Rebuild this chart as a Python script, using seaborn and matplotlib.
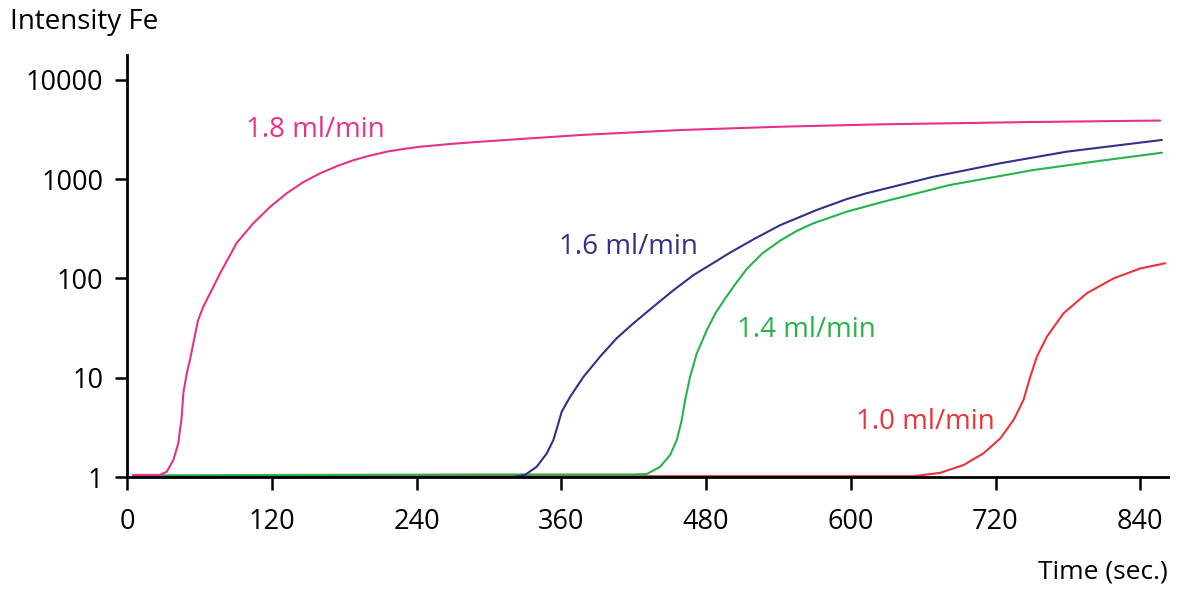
import numpy as np
import pandas as pd
import matplotlib
matplotlib.use("Agg")
import matplotlib.pyplot as plt
import seaborn as sns

# values (time in sec, Fe intensity)
t_18 = [5, 27, 33, 38.4, 42.5, 45.4, 46.7, 49.5, 52.2, 58.9, 63.3, 71.3, 77.1, 91, 104.7, 118.6,
        132.4, 146, 160, 174, 187.6, 201, 215.3, 229, 243, 270, 292.7, 375.6, 458.5, 541.5, 624,
        668.5, 751, 856.5]
y_18 = [1.05, 1.05, 1.13, 1.48, 2.18, 4.05, 6.95, 11, 15.1, 38, 52, 81, 112, 228, 359, 525,
        720, 930, 1143, 1350, 1550, 1720, 1890, 2010, 2120, 2270, 2380, 2780, 3120, 3370, 3560,
        3630, 3760, 3890]

t_16 = [5, 320, 330, 339.7, 348, 353.5, 357.6, 360.4, 367.3, 378.4, 392.2, 406, 419.8, 436.4, 453,
        469.6, 486, 500, 520, 541.5, 572, 596.8, 613, 652, 668.6, 724, 779, 858]
y_16 = [1.0, 1.0, 1.05, 1.27, 1.73, 2.36, 3.47, 4.55, 6.4, 10.2, 16.3, 25, 35.3, 52, 76,
        108, 143, 182, 250, 344, 490, 630, 720, 942, 1057, 1445, 1890, 2480]

t_14 = [10, 300, 419.8, 430.9, 442, 450.2, 455.8, 459.9, 462.7, 466.8, 472.4, 480.7, 488, 496,
        505, 513.9, 527, 541.5, 555, 569, 596.8, 627, 682, 751.5, 807, 858]
y_14 = [1.04, 1.06, 1.06, 1.07, 1.27, 1.66, 2.36, 3.75, 5.96, 10.2, 17.6, 30.2, 45, 63,
        90, 125, 180, 240, 300, 359, 470, 592, 872, 1235, 1530, 1845]

t_10 = [5, 400, 624, 652, 674, 693.5, 710, 724, 735, 743.2, 748.8, 754.3, 762.6, 776.4, 795.8,
        817.9, 840, 860.7]
y_10 = [1.02, 1.02, 1.02, 1.02, 1.1, 1.32, 1.73, 2.45, 3.75, 5.96, 10.2, 16.3, 25.9, 44.5, 71,
        100, 126, 142]

flows = ["1.8 ml/min", "1.6 ml/min", "1.4 ml/min", "1.0 ml/min"]
colors = ["#E6318A", "#33308B", "#25B34B", "#E8333B"]
label_t = [99, 358, 506, 604]
label_y = [3120, 207, 30.2, 3.6]

xticks = [0, 120, 240, 360, 480, 600, 720, 840]
yticks = [1, 10, 100, 1000, 10000]

frames = []
for name, t, y in zip(flows, [t_18, t_16, t_14, t_10], [y_18, y_16, y_14, y_10]):
    frames.append(pd.DataFrame({"time": t, "intensity": y, "flow": name}))
df = pd.concat(frames, ignore_index=True)

sns.set_theme(style="white")
plt.rcParams['font.family'] = ['Open Sans', 'DejaVu Sans']

fig = plt.figure(figsize=(11.91, 5.92), dpi=100)
ax = fig.add_axes([127 / 1191, 1 - 477 / 592, 1041 / 1191, 422 / 592])

# draw 1.0 first so the others sit on top of the baseline, like the reference
order = ["1.0 ml/min", "1.4 ml/min", "1.6 ml/min", "1.8 ml/min"]
for name in order:
    sub = df[df["flow"] == name]
    sns.lineplot(data=sub, x="time", y="intensity", color=colors[flows.index(name)],
                 linewidth=1.5, ax=ax, estimator=None, sort=False, legend=False)

ax.set_yscale("log")
ax.set_xlim(0, 863)
ax.set_ylim(1, 10 ** 4.25)
ax.set_xticks(xticks)
ax.set_xticklabels([str(v) for v in xticks])
ax.set_yticks(yticks)
ax.set_yticklabels([str(v) for v in yticks])
ax.minorticks_off()

for name, tx, ty, c in zip(flows, label_t, label_y, colors):
    ax.text(tx, ty, name, color=c, fontsize=20, ha="left", va="center")

sns.despine(ax=ax)
ax.spines["left"].set_linewidth(2)
ax.spines["bottom"].set_linewidth(2)
ax.spines["left"].set_color("black")
ax.spines["bottom"].set_color("black")
ax.tick_params(axis="both", direction="out", length=9, width=1.8, color="black",
               labelsize=19.5, labelcolor="black", left=True, bottom=True)
ax.tick_params(axis="y", pad=8)
ax.tick_params(axis="x", pad=13)

ax.set_xlabel("Time (sec.)", fontsize=19, color="black")
ax.xaxis.set_label_coords(1.0, -0.225)
ax.xaxis.label.set_ha("right")
ax.xaxis.label.set_va("center")
ax.set_ylabel("Intensity Fe", fontsize=20, color="black", rotation=0)
ax.yaxis.set_label_coords(-0.041, 1.078)
ax.yaxis.label.set_ha("center")
ax.yaxis.label.set_va("center")

fig.savefig("out.png", dpi=100)
